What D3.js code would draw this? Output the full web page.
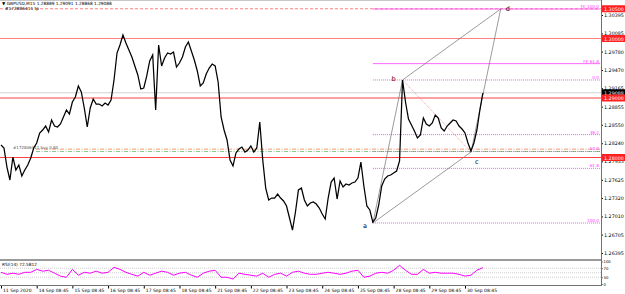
<!DOCTYPE html>
<html>
<head>
<meta charset="utf-8">
<script src="https://cdn.jsdelivr.net/npm/d3@7"></script>
<style>
body { margin: 0; background: #fff; }
text { font-family: "DejaVu Sans", sans-serif; }
</style>
</head>
<body>
<script>
// GBPUSD M15, 11 Sep - 30 Sep 2020, one close every 2 hours
var dayLabels = ["11 Sep 2020", "14 Sep 08:45", "15 Sep 08:45", "16 Sep 08:45", "17 Sep 08:45",
  "18 Sep 08:45", "21 Sep 08:45", "22 Sep 08:45", "23 Sep 08:45", "24 Sep 08:45",
  "25 Sep 08:45", "28 Sep 08:45", "29 Sep 08:45", "30 Sep 08:45"];

var priceTicks = [1.30395, 1.30085, 1.29780, 1.29470, 1.29165, 1.28855, 1.28550,
  1.28240, 1.27935, 1.27625, 1.27320, 1.27010, 1.26705, 1.26395];

var closes = [
  1.28210, 1.28160, 1.27840, 1.27622, 1.28008, 1.27790, 1.27874, 1.27689, 1.27790, 1.27874,
  1.27992, 1.28160, 1.28244, 1.28412, 1.28462, 1.28529, 1.28429, 1.28630, 1.28529, 1.28513,
  1.28563, 1.28681, 1.28798, 1.28731, 1.28933, 1.29017, 1.29202, 1.29101, 1.28832, 1.28513,
  1.28832, 1.28983, 1.28899, 1.28899, 1.28866, 1.28916, 1.28882, 1.28966, 1.29302, 1.29756,
  1.29891, 1.30059, 1.29924, 1.29807, 1.29689, 1.29538, 1.29387, 1.29151, 1.29168, 1.29370,
  1.29622, 1.29723, 1.28798, 1.29891, 1.29538, 1.29672, 1.29756, 1.29739, 1.29773, 1.29521,
  1.29588, 1.29689, 1.29857, 1.29941, 1.29790, 1.29639, 1.29454, 1.29202, 1.29252, 1.29403,
  1.29504, 1.29571, 1.29538, 1.29269, 1.28681, 1.28462, 1.28294, 1.27958, 1.27857, 1.28076,
  1.28143, 1.28176, 1.28092, 1.28126, 1.28193, 1.28092, 1.28160, 1.28597, 1.27958, 1.27487,
  1.27286, 1.27319, 1.27319, 1.27386, 1.27319, 1.27269, 1.27185, 1.26983, 1.26781, 1.27084,
  1.27454, 1.27487, 1.27286, 1.27185, 1.27235, 1.27252, 1.27218, 1.27151, 1.27050, 1.26966,
  1.27319, 1.27588, 1.27655, 1.27302, 1.27605, 1.27504, 1.27555, 1.27538, 1.27571, 1.27588,
  1.27655, 1.27924, 1.27521, 1.27185, 1.27118, 1.26916, 1.26983, 1.27202, 1.27521, 1.27639,
  1.27689, 1.27706, 1.27739, 1.27773, 1.27941, 1.29302, 1.28933, 1.28647, 1.28546, 1.28445,
  1.28328, 1.28378, 1.28664, 1.28563, 1.28529, 1.28580, 1.28714, 1.28664, 1.28496, 1.28445,
  1.28529, 1.28580, 1.28630, 1.28613, 1.28529, 1.28479, 1.28412, 1.28244, 1.28109, 1.28244,
  1.28462, 1.28798, 1.29084];

// RSI(14), one value every 4 hours
var rsiValues = [
  52, 43, 48, 43, 52, 52, 65, 57, 61, 48, 35, 30, 65, 39, 52, 48, 57, 48, 52, 74,
  65, 52, 43, 35, 52, 39, 48, 57, 52, 39, 48, 52, 39, 30, 48, 57, 61, 30, 30, 22,
  48, 43, 39, 35, 48, 30, 43, 48, 35, 52, 57, 48, 43, 43, 48, 52, 48, 43, 48, 57,
  61, 30, 35, 48, 52, 48, 61, 83, 61, 43, 43, 65, 48, 52, 48, 48, 48, 43, 35, 39,
  61, 72.5812];
var rsiLevels = [70, 50, 30];
var rsiTicks = [100, 70, 30, 0];

var redLevels = [1.30000, 1.29000, 1.28000];
var takeProfit = 1.30500;
var bidPrice = 1.29088;
var openPrice = 1.28140;
var stopPrice = 1.28100;
var ohlc = [1.28889, 1.29091, 1.28868, 1.29088];

// a, b, c of the wave (day index, price)
var anchors = [
  { name: "a", day: 10.42, price: 1.26899 },
  { name: "b", day: 11.25, price: 1.29303 },
  { name: "c", day: 13.17, price: 1.28092 }
];
var retraceLevels = [0, 38.2, 50, 61.8, 100];
var expansionLevels = [61.8, 100];

var width = 625, height = 294;
var plotRight = 601, mainBottom = 259, subBottom = 285;

var svg = d3.select("body").append("svg")
  .attr("width", width)
  .attr("height", height);

var x = d3.scaleLinear().domain([0, 13]).range([1, 465]);
var y = d3.scaleLinear()
  .domain([priceTicks[0], priceTicks[priceTicks.length - 1]])
  .range([15, 253]);
var ry = d3.scaleLinear().domain([0, 100]).range([284, 261.5]);

// frame
svg.append("rect").attr("x", 0).attr("y", 0).attr("width", width).attr("height", height).attr("fill", "#fff");
svg.append("line").attr("x1", 0).attr("x2", plotRight).attr("y1", 0.5).attr("y2", 0.5).attr("stroke", "#c8c8c8");

var main = svg.append("g");

// horizontal levels
main.append("line")
  .attr("x1", 0).attr("x2", plotRight)
  .attr("y1", y(takeProfit)).attr("y2", y(takeProfit))
  .attr("stroke", "#ff6060").attr("stroke-dasharray", "3,2").attr("stroke-width", 0.8);

main.append("line")
  .attr("x1", 0).attr("x2", plotRight)
  .attr("y1", y(bidPrice)).attr("y2", y(bidPrice))
  .attr("stroke", "#c8c8c8").attr("stroke-width", 0.8);

main.selectAll(".lvl")
  .data(redLevels)
  .enter().append("line")
  .attr("x1", 0).attr("x2", plotRight)
  .attr("y1", function (d) { return y(d); })
  .attr("y2", function (d) { return y(d); })
  .attr("stroke", function (d, i) { return i == 0 ? "#ff8080" : "#ff4040"; })
  .attr("stroke-width", 1);

main.append("line")
  .attr("x1", 36).attr("x2", plotRight)
  .attr("y1", y(openPrice)).attr("y2", y(openPrice))
  .attr("stroke", "#f08050").attr("stroke-dasharray", "4,1.5,1,1.5").attr("stroke-width", 0.8);
main.append("line")
  .attr("x1", 36).attr("x2", plotRight)
  .attr("y1", y(stopPrice)).attr("y2", y(stopPrice))
  .attr("stroke", "#70b070").attr("stroke-dasharray", "4,1.5,1,1.5").attr("stroke-width", 0.8);

main.append("text")
  .attr("x", 13).attr("y", y(openPrice) - 0.5)
  .attr("font-size", 4).attr("fill", "#555")
  .text("#172806411 buy 0.80");

// fibonacci retracement b -> a and expansion from c
var a = anchors[0], b = anchors[1], c = anchors[2];
var range = b.price - a.price;
var d = { name: "d", day: c.day + (b.day - a.day), price: c.price + range };

var retrace = retraceLevels.map(function (r) { return { label: r.toFixed(1), price: b.price - r / 100 * range, dash: "1,1" }; });
var expand = expansionLevels.map(function (r) { return { label: "FE " + r.toFixed(1), price: c.price + r / 100 * range, dash: null }; });
var fibs = retrace.concat(expand);

main.selectAll(".fib")
  .data(fibs)
  .enter().append("line")
  .attr("x1", x(a.day)).attr("x2", plotRight - 1)
  .attr("y1", function (f) { return y(f.price); })
  .attr("y2", function (f) { return y(f.price); })
  .attr("stroke", "#ff40ff")
  .attr("stroke-width", function (f) { return f.dash ? 0.9 : 0.8; })
  .attr("stroke-dasharray", function (f) { return f.dash; });

main.selectAll(".fibtxt")
  .data(fibs)
  .enter().append("text")
  .attr("x", plotRight - 2)
  .attr("y", function (f) { return y(f.price) - 1; })
  .attr("text-anchor", "end")
  .attr("font-size", 4.2)
  .attr("fill", "#ff40ff")
  .text(function (f) { return f.label; });

// wave channel a-b-d-c
var px = function (p) { return [x(p.day), y(p.price)]; };
var sides = [[a, b], [b, d], [d, c], [c, a]];
main.selectAll(".side")
  .data(sides)
  .enter().append("line")
  .attr("x1", function (s) { return px(s[0])[0]; })
  .attr("y1", function (s) { return px(s[0])[1]; })
  .attr("x2", function (s) { return px(s[1])[0]; })
  .attr("y2", function (s) { return px(s[1])[1]; })
  .attr("stroke", "#707070").attr("stroke-width", 0.7);

main.append("line")
  .attr("x1", px(b)[0]).attr("y1", px(b)[1])
  .attr("x2", px(c)[0]).attr("y2", px(c)[1])
  .attr("stroke", "#f08080").attr("stroke-width", 0.8).attr("stroke-dasharray", "1,1");

// price
var line = d3.line()
  .x(function (v, i) { return x(i / 12); })
  .y(function (v) { return y(v); });

main.append("path")
  .datum(closes)
  .attr("fill", "none")
  .attr("stroke", "#000")
  .attr("stroke-width", 1.25)
  .attr("stroke-linejoin", "miter")
  .attr("d", line);

// wave labels
var labelOffset = { a: [-10, 5], b: [-11, 1], c: [4, 12], d: [5, 2] };
main.selectAll(".wl")
  .data(anchors.concat([d]))
  .enter().append("text")
  .attr("x", function (p) { return px(p)[0] + labelOffset[p.name][0]; })
  .attr("y", function (p) { return px(p)[1] + labelOffset[p.name][1]; })
  .attr("font-size", 6.5)
  .attr("fill", function (p) { return p.name == "b" ? "#800000" : "#000040"; })
  .text(function (p) { return p.name; });

// header
svg.append("text").attr("x", 2).attr("y", 5).attr("font-size", 4.3).attr("fill", "#000")
  .text("\u25BC GBPUSD,M15  " + ohlc.map(function (v) { return v.toFixed(5); }).join(" "));
svg.append("text").attr("x", 5).attr("y", 10).attr("font-size", 4.3).attr("fill", "#000")
  .text("#172806411 tp");

// right price axis
var yAxis = d3.axisRight(y).tickValues(priceTicks).tickSize(2).tickFormat(d3.format(".5f"));
var ya = svg.append("g")
  .attr("transform", "translate(" + plotRight + ",0)")
  .call(yAxis);
ya.select(".domain").remove();
ya.selectAll("text").attr("font-size", 4.8).attr("x", 3).attr("fill", "#000").attr("font-family", "DejaVu Sans");
ya.selectAll("line").attr("stroke", "#000");

// price tags
var tags = [
  { price: takeProfit, fill: "#ff2020" },
  { price: redLevels[0], fill: "#ff2020" },
  { price: bidPrice, fill: "#000" },
  { price: redLevels[1], fill: "#ff2020" },
  { price: redLevels[2], fill: "#ff2020" }
];
var tg = svg.selectAll(".tag").data(tags).enter().append("g");
tg.append("rect")
  .attr("x", plotRight + 1)
  .attr("y", function (t) { return y(t.price) - 3.5; })
  .attr("width", 23).attr("height", 7)
  .attr("fill", function (t) { return t.fill; });
tg.append("text")
  .attr("x", plotRight + 3)
  .attr("y", function (t) { return y(t.price) + 2; })
  .attr("font-size", 4.8).attr("fill", "#fff")
  .text(function (t) { return t.price.toFixed(5); });

// separator between windows
svg.append("rect").attr("x", 0).attr("y", mainBottom).attr("width", plotRight + 1).attr("height", 2).attr("fill", "#9a9a9a");

// RSI window
var sub = svg.append("g");
sub.selectAll(".rl")
  .data(rsiLevels)
  .enter().append("line")
  .attr("x1", 0).attr("x2", plotRight)
  .attr("y1", function (v) { return ry(v); })
  .attr("y2", function (v) { return ry(v); })
  .attr("stroke", "#b0b0b0").attr("stroke-width", 0.6).attr("stroke-dasharray", "1,1");

var rsiLine = d3.line()
  .x(function (v, i) { return x(i / 6); })
  .y(function (v) { return ry(v); });
sub.append("path")
  .datum(rsiValues)
  .attr("fill", "none")
  .attr("stroke", "#ff00ff")
  .attr("stroke-width", 1)
  .attr("d", rsiLine);

sub.append("text").attr("x", 2).attr("y", 266).attr("font-size", 4.3).attr("fill", "#000")
  .text("RSI(14) " + rsiValues[rsiValues.length - 1].toFixed(4));

var ra = svg.append("g")
  .attr("transform", "translate(" + plotRight + ",0)")
  .call(d3.axisRight(ry).tickValues(rsiTicks).tickSize(1.5));
ra.select(".domain").remove();
ra.selectAll("text").attr("font-size", 3.8).attr("x", 2.5).attr("fill", "#000").attr("font-family", "DejaVu Sans");

// borders
svg.append("line").attr("x1", plotRight + 0.5).attr("x2", plotRight + 0.5).attr("y1", 0).attr("y2", subBottom).attr("stroke", "#707070");
svg.append("line").attr("x1", 0).attr("x2", plotRight + 1).attr("y1", subBottom + 0.5).attr("y2", subBottom + 0.5).attr("stroke", "#707070");

// time axis
var xAxis = d3.axisBottom(x).tickValues(d3.range(dayLabels.length)).tickSize(2.5)
  .tickFormat(function (i) { return dayLabels[i]; });
var xa = svg.append("g")
  .attr("transform", "translate(0," + (subBottom + 1) + ")")
  .call(xAxis);
xa.select(".domain").remove();
xa.selectAll("text").attr("font-size", 4.5).attr("text-anchor", "start").attr("dx", 1.5).attr("y", 3).attr("fill", "#000").attr("font-family", "DejaVu Sans");
xa.selectAll("line").attr("stroke", "#000");
</script>
</body>
</html>
